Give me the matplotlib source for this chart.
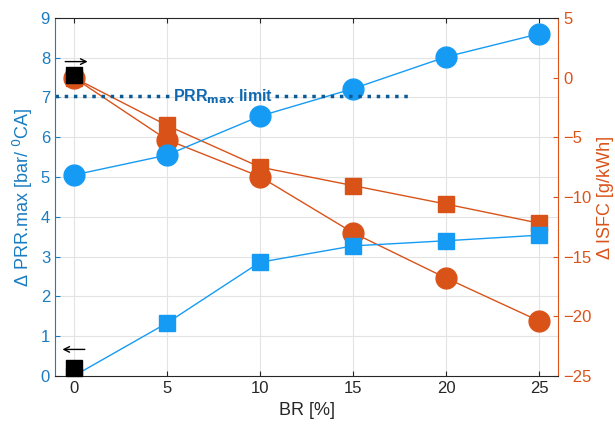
import numpy as np
from matplotlib import pyplot as plt

br = [0, 5, 10, 15, 20, 25]
prr_circ = [5.05, 5.55, 6.53, 7.22, 8.02, 8.6]
prr_sq = [0.0, 1.33, 2.86, 3.27, 3.40, 3.54]
isfc_sq = [0.0, -4.0, -7.5, -9.05, -10.6, -12.2]
isfc_circ = [0.0, -5.2, -8.3, -13.0, -16.8, -20.4]
prr_limit = 7.03

azul = '#169BF5'
azul_eixo = '#1A7CC1'
laranja = '#D95319'
azul_escuro = '#0A5A96'

plt.rcParams['font.family'] = 'Liberation Sans'
fig = plt.figure(figsize=(6.15, 4.24), dpi=100)
ax1 = fig.add_axes([0.0894, 0.113, 0.818, 0.845])
ax2 = ax1.twinx()
ax1.set_zorder(ax2.get_zorder() + 1)
ax1.patch.set_visible(False)

# grade desenhada no eixo de baixo (para ficar atras de tudo)
for k in range(1, 9):
    ax2.axhline(-25 + k * 30 / 9, color='#E3E3E3', lw=0.8, zorder=0)
for x in br:
    ax2.axvline(x, color='#E3E3E3', lw=0.8, zorder=0)

# eixo direito (ISFC)
ax2.plot(br, isfc_sq, '-s', color=laranja, lw=1, ms=11)
ax2.plot(br, isfc_circ, '-o', color=laranja, lw=1, ms=15)
ax2.set_ylim(-25, 5)
ax2.set_yticks(np.arange(-25, 6, 5))
ax2.set_ylabel('Δ ISFC [g/kWh]', color=laranja, fontsize=13)
ax2.tick_params(axis='y', colors=laranja, labelsize=12, direction='in')
ax2.spines['right'].set_color(laranja)
ax2.spines['left'].set_visible(False)
ax2.spines['top'].set_visible(False)
ax2.spines['bottom'].set_visible(False)

# eixo esquerdo (PRR)
ax1.plot(br, prr_circ, '-o', color=azul, lw=1, ms=15)
ax1.plot(br, prr_sq, '-s', color=azul, lw=1, ms=11)
ax1.plot([-1, 5.1], [prr_limit, prr_limit], ':', color=azul_escuro, lw=2.5)
ax1.plot([10.8, 18], [prr_limit, prr_limit], ':', color=azul_escuro, lw=2.5)
ax1.text(8.0, prr_limit, 'PRR$_{\\mathbf{max}}$ limit', color='#1068B0', fontsize=11.5,
         fontweight='bold', va='center', ha='center')
ax1.plot([0], [7.56], 's', color='black', ms=11, zorder=5, clip_on=False)
ax1.plot([0], [0.2], 's', color='black', ms=11, zorder=5, clip_on=False)
ax1.annotate('', xy=(0.9, 7.9), xytext=(-0.6, 7.9),
             arrowprops=dict(arrowstyle='->', color='black', lw=1))
ax1.annotate('', xy=(-0.75, 0.67), xytext=(0.75, 0.67),
             arrowprops=dict(arrowstyle='->', color='black', lw=1))

ax1.set_xlim(-1, 26)
ax1.set_ylim(0, 9)
ax1.set_xticks(br)
ax1.set_yticks(range(0, 10))
ax1.set_xlabel('BR [%]', fontsize=13, color='#262626')
ax1.set_ylabel('Δ PRR.max [bar/ $^{0}$CA]', color=azul_eixo, fontsize=13)
ax1.tick_params(axis='y', colors=azul_eixo, labelsize=12, direction='in')
ax1.tick_params(axis='x', colors='#262626', labelsize=12, direction='in', top=True)
ax1.spines['left'].set_color(azul_eixo)
ax1.spines['right'].set_visible(False)
ax1.spines['top'].set_color('#262626')
ax1.spines['bottom'].set_color('#262626')

plt.savefig('out.png', dpi=100)
